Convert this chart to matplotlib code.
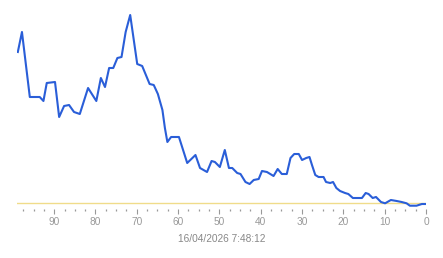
import matplotlib.pyplot as plt
from matplotlib.ticker import MultipleLocator

# readings over time (x counts back to the timestamp at 0)
ago = [98.8, 97.8, 95.9, 93.5, 92.6, 91.8, 89.8, 88.8, 87.6, 86.4,
       85.2, 83.8, 81.8, 79.8, 78.7, 77.7, 76.7, 75.7, 74.7, 73.7,
       72.7, 71.6, 69.9, 68.7, 66.9, 65.9, 64.9, 63.8, 63.2, 62.6,
       61.7, 59.8, 57.8, 55.8, 54.7, 53.0, 51.9, 51.1, 49.9, 48.7,
       47.7, 46.9, 45.7, 44.9, 43.7, 42.7, 41.7, 40.5, 39.7, 38.5,
       36.9, 35.9, 34.9, 33.7, 32.8, 31.9, 30.8, 30.0, 29.0, 28.2,
       27.6, 26.8, 26.0, 24.8, 24.2, 23.2, 22.5, 21.7, 20.8, 19.6,
       18.8, 17.7, 15.5, 14.6, 13.9, 12.9, 12.1, 10.9, 9.9, 8.5,
       7.1, 5.9, 4.7, 3.9, 2.3, 1.0, 0.1]
value = [151, 171, 106, 106, 102, 120, 121, 86, 97, 98,
         91, 89, 115, 102, 125, 116, 135, 135, 145, 146,
         171, 188, 139, 137, 119, 118, 109, 93, 75, 61,
         66, 66, 40, 48, 35, 31, 42, 41, 36, 53,
         35, 35, 30, 29, 21, 19, 23, 24, 32, 31,
         27, 34, 29, 29, 45, 49, 49, 43, 45, 46,
         38, 28, 26, 26, 21, 20, 21, 15, 12, 10,
         9, 5, 5, 10, 9, 5, 6, 1, -0.3, 3,
         2, 1, -0.3, -2.7, -2.7, -1, -1]
timestamp = '16/04/2026 7:48:12'

plt.rcParams['font.family'] = ['Liberation Sans', 'DejaVu Sans']

fig = plt.figure(figsize=(4.43, 2.58), dpi=100)
ax = fig.add_axes([17 / 443, 1 - 209 / 258, 409 / 443, 199 / 258])

ax.axhline(0, color='#f0dc8a', linewidth=1.0, zorder=1)
ax.plot(ago, value, color='#2a5ed8', linewidth=1.5, zorder=2)

ax.set_xlim(99, 0)
ax.set_ylim(-6, 193)

for s in ax.spines.values():
    s.set_visible(False)
ax.set_yticks([])
ax.xaxis.set_major_locator(MultipleLocator(10))
ax.xaxis.set_minor_locator(MultipleLocator(2.5))
ax.tick_params(axis='x', which='major', length=3.5, width=0.8, color='#999999',
               labelcolor='#999999', labelsize=7.3, pad=2)
ax.tick_params(axis='x', which='minor', length=1.2, width=0.9, color='#999999')
ax.set_xlabel(timestamp, fontsize=7.3, color='#888888', labelpad=5)

fig.savefig('out.png', dpi=100)
